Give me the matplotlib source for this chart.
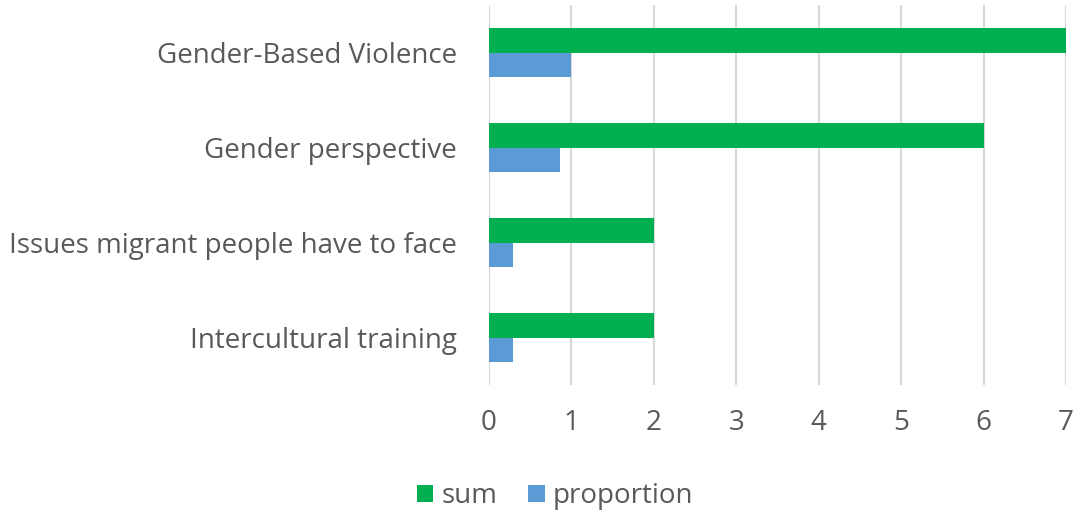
import matplotlib
matplotlib.use("Agg")
import matplotlib.pyplot as plt
import numpy as np

categories = ["Gender-Based Violence", "Gender perspective",
              "Issues migrant people have to face", "Intercultural training"]
sum_values = [7, 6, 2, 2]
proportion_values = [1.0, 0.857, 0.286, 0.286]

GREEN = "#00B050"
BLUE = "#5B9BD5"
TEXT = "#595959"

plt.rcParams["font.family"] = ["Open Sans", "DejaVu Sans"]

fig = plt.figure(figsize=(10.8, 5.11), dpi=100)
ax = fig.add_axes([0.4528, 0.2466, 0.987 - 0.4528, 0.990 - 0.2466])

y = np.arange(len(categories))
h = 0.26
ax.barh(y - h / 2, sum_values, h, color=GREEN, label="sum", zorder=3)
ax.barh(y + h / 2, proportion_values, h, color=BLUE, label="proportion", zorder=3)

ax.set_ylim(len(categories) - 0.5, -0.5)
ax.set_xlim(0, 7)
ax.set_xticks(range(0, 8))
ax.set_yticks(y)
ax.set_yticklabels(categories)
ax.tick_params(axis="both", length=0, labelsize=20, colors=TEXT)
ax.tick_params(axis="x", pad=17)
ax.tick_params(axis="y", pad=23)
ax.grid(axis="x", color="#D9D9D9", linewidth=1.5, zorder=0)
for s in ax.spines.values():
    s.set_visible(False)

leg = ax.legend(loc="upper center", ncol=2, frameon=False, fontsize=20,
                labelcolor=TEXT, handlelength=0.6, handleheight=0.6,
                handletextpad=0.3, columnspacing=1.1)
leg.set_bbox_to_anchor((0.514, 0.105), transform=fig.transFigure)

fig.savefig("out.png", dpi=100)
